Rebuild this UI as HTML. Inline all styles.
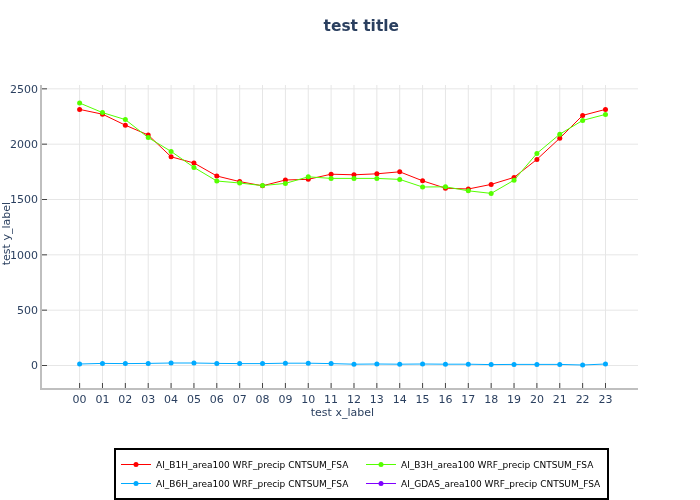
<!DOCTYPE html>
<html lang="en">
<head>
<meta charset="utf-8">
<title>test title</title>
<style>
html,body{margin:0;padding:0;background:#fff;}
body{width:700px;height:500px;overflow:hidden;}
svg{display:block;will-change:transform;}
text{font-family:"DejaVu Sans", "Liberation Sans", sans-serif;}
</style>
</head>
<body>
<svg width="700" height="500" viewBox="0 0 700 500">
<rect x="0" y="0" width="700" height="500" fill="#ffffff"/>
<g stroke="#e6e6e6" stroke-width="1">
<line x1="79.62" y1="85" x2="79.62" y2="388"/>
<line x1="102.48" y1="85" x2="102.48" y2="388"/>
<line x1="125.35" y1="85" x2="125.35" y2="388"/>
<line x1="148.21" y1="85" x2="148.21" y2="388"/>
<line x1="171.08" y1="85" x2="171.08" y2="388"/>
<line x1="193.94" y1="85" x2="193.94" y2="388"/>
<line x1="216.8" y1="85" x2="216.8" y2="388"/>
<line x1="239.67" y1="85" x2="239.67" y2="388"/>
<line x1="262.53" y1="85" x2="262.53" y2="388"/>
<line x1="285.4" y1="85" x2="285.4" y2="388"/>
<line x1="308.26" y1="85" x2="308.26" y2="388"/>
<line x1="331.12" y1="85" x2="331.12" y2="388"/>
<line x1="353.99" y1="85" x2="353.99" y2="388"/>
<line x1="376.85" y1="85" x2="376.85" y2="388"/>
<line x1="399.72" y1="85" x2="399.72" y2="388"/>
<line x1="422.58" y1="85" x2="422.58" y2="388"/>
<line x1="445.44" y1="85" x2="445.44" y2="388"/>
<line x1="468.31" y1="85" x2="468.31" y2="388"/>
<line x1="491.17" y1="85" x2="491.17" y2="388"/>
<line x1="514.04" y1="85" x2="514.04" y2="388"/>
<line x1="536.9" y1="85" x2="536.9" y2="388"/>
<line x1="559.76" y1="85" x2="559.76" y2="388"/>
<line x1="582.63" y1="85" x2="582.63" y2="388"/>
<line x1="605.49" y1="85" x2="605.49" y2="388"/>
<line x1="42" y1="365.5" x2="638" y2="365.5"/>
<line x1="42" y1="310.17" x2="638" y2="310.17"/>
<line x1="42" y1="254.83" x2="638" y2="254.83"/>
<line x1="42" y1="199.5" x2="638" y2="199.5"/>
<line x1="42" y1="144.17" x2="638" y2="144.17"/>
<line x1="42" y1="88.83" x2="638" y2="88.83"/>
</g>
<g stroke="#444444" stroke-width="1">
<line x1="79.62" y1="388" x2="79.62" y2="383"/>
<line x1="102.48" y1="388" x2="102.48" y2="383"/>
<line x1="125.35" y1="388" x2="125.35" y2="383"/>
<line x1="148.21" y1="388" x2="148.21" y2="383"/>
<line x1="171.08" y1="388" x2="171.08" y2="383"/>
<line x1="193.94" y1="388" x2="193.94" y2="383"/>
<line x1="216.8" y1="388" x2="216.8" y2="383"/>
<line x1="239.67" y1="388" x2="239.67" y2="383"/>
<line x1="262.53" y1="388" x2="262.53" y2="383"/>
<line x1="285.4" y1="388" x2="285.4" y2="383"/>
<line x1="308.26" y1="388" x2="308.26" y2="383"/>
<line x1="331.12" y1="388" x2="331.12" y2="383"/>
<line x1="353.99" y1="388" x2="353.99" y2="383"/>
<line x1="376.85" y1="388" x2="376.85" y2="383"/>
<line x1="399.72" y1="388" x2="399.72" y2="383"/>
<line x1="422.58" y1="388" x2="422.58" y2="383"/>
<line x1="445.44" y1="388" x2="445.44" y2="383"/>
<line x1="468.31" y1="388" x2="468.31" y2="383"/>
<line x1="491.17" y1="388" x2="491.17" y2="383"/>
<line x1="514.04" y1="388" x2="514.04" y2="383"/>
<line x1="536.9" y1="388" x2="536.9" y2="383"/>
<line x1="559.76" y1="388" x2="559.76" y2="383"/>
<line x1="582.63" y1="388" x2="582.63" y2="383"/>
<line x1="605.49" y1="388" x2="605.49" y2="383"/>
<line x1="42" y1="365.5" x2="47" y2="365.5"/>
<line x1="42" y1="310.17" x2="47" y2="310.17"/>
<line x1="42" y1="254.83" x2="47" y2="254.83"/>
<line x1="42" y1="199.5" x2="47" y2="199.5"/>
<line x1="42" y1="144.17" x2="47" y2="144.17"/>
<line x1="42" y1="88.83" x2="47" y2="88.83"/>
</g>
<g shape-rendering="crispEdges" stroke="#bfbfbf" stroke-width="2">
<line x1="40" y1="389" x2="638" y2="389"/>
<line x1="41" y1="85" x2="41" y2="390"/>
</g>
<g>
<polyline points="79.62,109.40 102.48,114.20 125.35,125.20 148.21,135.00 171.08,156.80 193.94,163.00 216.80,176.00 239.67,181.60 262.53,185.80 285.40,180.00 308.26,179.30 331.12,174.20 353.99,174.80 376.85,173.80 399.72,171.80 422.58,180.80 445.44,188.20 468.31,189.00 491.17,184.40 514.04,177.40 536.90,159.40 559.76,138.20 582.63,115.40 605.49,109.40" fill="none" stroke="#ff0000" stroke-width="1" stroke-linejoin="round"/>
<circle cx="79.62" cy="109.40" r="2.5" fill="#ff0000"/>
<circle cx="102.48" cy="114.20" r="2.5" fill="#ff0000"/>
<circle cx="125.35" cy="125.20" r="2.5" fill="#ff0000"/>
<circle cx="148.21" cy="135.00" r="2.5" fill="#ff0000"/>
<circle cx="171.08" cy="156.80" r="2.5" fill="#ff0000"/>
<circle cx="193.94" cy="163.00" r="2.5" fill="#ff0000"/>
<circle cx="216.80" cy="176.00" r="2.5" fill="#ff0000"/>
<circle cx="239.67" cy="181.60" r="2.5" fill="#ff0000"/>
<circle cx="262.53" cy="185.80" r="2.5" fill="#ff0000"/>
<circle cx="285.40" cy="180.00" r="2.5" fill="#ff0000"/>
<circle cx="308.26" cy="179.30" r="2.5" fill="#ff0000"/>
<circle cx="331.12" cy="174.20" r="2.5" fill="#ff0000"/>
<circle cx="353.99" cy="174.80" r="2.5" fill="#ff0000"/>
<circle cx="376.85" cy="173.80" r="2.5" fill="#ff0000"/>
<circle cx="399.72" cy="171.80" r="2.5" fill="#ff0000"/>
<circle cx="422.58" cy="180.80" r="2.5" fill="#ff0000"/>
<circle cx="445.44" cy="188.20" r="2.5" fill="#ff0000"/>
<circle cx="468.31" cy="189.00" r="2.5" fill="#ff0000"/>
<circle cx="491.17" cy="184.40" r="2.5" fill="#ff0000"/>
<circle cx="514.04" cy="177.40" r="2.5" fill="#ff0000"/>
<circle cx="536.90" cy="159.40" r="2.5" fill="#ff0000"/>
<circle cx="559.76" cy="138.20" r="2.5" fill="#ff0000"/>
<circle cx="582.63" cy="115.40" r="2.5" fill="#ff0000"/>
<circle cx="605.49" cy="109.40" r="2.5" fill="#ff0000"/>
</g>
<g>
<polyline points="79.62,103.00 102.48,112.60 125.35,119.60 148.21,137.60 171.08,151.40 193.94,167.40 216.80,181.00 239.67,183.00 262.53,185.60 285.40,183.40 308.26,176.80 331.12,178.40 353.99,178.40 376.85,178.40 399.72,179.40 422.58,187.00 445.44,186.80 468.31,190.80 491.17,193.40 514.04,180.20 536.90,153.40 559.76,134.20 582.63,120.40 605.49,114.40" fill="none" stroke="#55ff00" stroke-width="1" stroke-linejoin="round"/>
<circle cx="79.62" cy="103.00" r="2.5" fill="#55ff00"/>
<circle cx="102.48" cy="112.60" r="2.5" fill="#55ff00"/>
<circle cx="125.35" cy="119.60" r="2.5" fill="#55ff00"/>
<circle cx="148.21" cy="137.60" r="2.5" fill="#55ff00"/>
<circle cx="171.08" cy="151.40" r="2.5" fill="#55ff00"/>
<circle cx="193.94" cy="167.40" r="2.5" fill="#55ff00"/>
<circle cx="216.80" cy="181.00" r="2.5" fill="#55ff00"/>
<circle cx="239.67" cy="183.00" r="2.5" fill="#55ff00"/>
<circle cx="262.53" cy="185.60" r="2.5" fill="#55ff00"/>
<circle cx="285.40" cy="183.40" r="2.5" fill="#55ff00"/>
<circle cx="308.26" cy="176.80" r="2.5" fill="#55ff00"/>
<circle cx="331.12" cy="178.40" r="2.5" fill="#55ff00"/>
<circle cx="353.99" cy="178.40" r="2.5" fill="#55ff00"/>
<circle cx="376.85" cy="178.40" r="2.5" fill="#55ff00"/>
<circle cx="399.72" cy="179.40" r="2.5" fill="#55ff00"/>
<circle cx="422.58" cy="187.00" r="2.5" fill="#55ff00"/>
<circle cx="445.44" cy="186.80" r="2.5" fill="#55ff00"/>
<circle cx="468.31" cy="190.80" r="2.5" fill="#55ff00"/>
<circle cx="491.17" cy="193.40" r="2.5" fill="#55ff00"/>
<circle cx="514.04" cy="180.20" r="2.5" fill="#55ff00"/>
<circle cx="536.90" cy="153.40" r="2.5" fill="#55ff00"/>
<circle cx="559.76" cy="134.20" r="2.5" fill="#55ff00"/>
<circle cx="582.63" cy="120.40" r="2.5" fill="#55ff00"/>
<circle cx="605.49" cy="114.40" r="2.5" fill="#55ff00"/>
</g>
<g>
<polyline points="79.62,364.00 102.48,363.40 125.35,363.60 148.21,363.40 171.08,363.00 193.94,363.00 216.80,363.40 239.67,363.60 262.53,363.60 285.40,363.20 308.26,363.20 331.12,363.60 353.99,364.20 376.85,364.00 399.72,364.20 422.58,364.00 445.44,364.20 468.31,364.20 491.17,364.60 514.04,364.40 536.90,364.40 559.76,364.40 582.63,365.00 605.49,364.00" fill="none" stroke="#00aaff" stroke-width="1" stroke-linejoin="round"/>
<circle cx="79.62" cy="364.00" r="2.5" fill="#00aaff"/>
<circle cx="102.48" cy="363.40" r="2.5" fill="#00aaff"/>
<circle cx="125.35" cy="363.60" r="2.5" fill="#00aaff"/>
<circle cx="148.21" cy="363.40" r="2.5" fill="#00aaff"/>
<circle cx="171.08" cy="363.00" r="2.5" fill="#00aaff"/>
<circle cx="193.94" cy="363.00" r="2.5" fill="#00aaff"/>
<circle cx="216.80" cy="363.40" r="2.5" fill="#00aaff"/>
<circle cx="239.67" cy="363.60" r="2.5" fill="#00aaff"/>
<circle cx="262.53" cy="363.60" r="2.5" fill="#00aaff"/>
<circle cx="285.40" cy="363.20" r="2.5" fill="#00aaff"/>
<circle cx="308.26" cy="363.20" r="2.5" fill="#00aaff"/>
<circle cx="331.12" cy="363.60" r="2.5" fill="#00aaff"/>
<circle cx="353.99" cy="364.20" r="2.5" fill="#00aaff"/>
<circle cx="376.85" cy="364.00" r="2.5" fill="#00aaff"/>
<circle cx="399.72" cy="364.20" r="2.5" fill="#00aaff"/>
<circle cx="422.58" cy="364.00" r="2.5" fill="#00aaff"/>
<circle cx="445.44" cy="364.20" r="2.5" fill="#00aaff"/>
<circle cx="468.31" cy="364.20" r="2.5" fill="#00aaff"/>
<circle cx="491.17" cy="364.60" r="2.5" fill="#00aaff"/>
<circle cx="514.04" cy="364.40" r="2.5" fill="#00aaff"/>
<circle cx="536.90" cy="364.40" r="2.5" fill="#00aaff"/>
<circle cx="559.76" cy="364.40" r="2.5" fill="#00aaff"/>
<circle cx="582.63" cy="365.00" r="2.5" fill="#00aaff"/>
<circle cx="605.49" cy="364.00" r="2.5" fill="#00aaff"/>
</g>
<g fill="#2a3f5f" font-size="11">
<text x="79.62" y="403" text-anchor="middle">00</text>
<text x="102.48" y="403" text-anchor="middle">01</text>
<text x="125.35" y="403" text-anchor="middle">02</text>
<text x="148.21" y="403" text-anchor="middle">03</text>
<text x="171.08" y="403" text-anchor="middle">04</text>
<text x="193.94" y="403" text-anchor="middle">05</text>
<text x="216.80" y="403" text-anchor="middle">06</text>
<text x="239.67" y="403" text-anchor="middle">07</text>
<text x="262.53" y="403" text-anchor="middle">08</text>
<text x="285.40" y="403" text-anchor="middle">09</text>
<text x="308.26" y="403" text-anchor="middle">10</text>
<text x="331.12" y="403" text-anchor="middle">11</text>
<text x="353.99" y="403" text-anchor="middle">12</text>
<text x="376.85" y="403" text-anchor="middle">13</text>
<text x="399.72" y="403" text-anchor="middle">14</text>
<text x="422.58" y="403" text-anchor="middle">15</text>
<text x="445.44" y="403" text-anchor="middle">16</text>
<text x="468.31" y="403" text-anchor="middle">17</text>
<text x="491.17" y="403" text-anchor="middle">18</text>
<text x="514.04" y="403" text-anchor="middle">19</text>
<text x="536.90" y="403" text-anchor="middle">20</text>
<text x="559.76" y="403" text-anchor="middle">21</text>
<text x="582.63" y="403" text-anchor="middle">22</text>
<text x="605.49" y="403" text-anchor="middle">23</text>
<text x="38" y="369.35" text-anchor="end">0</text>
<text x="38" y="314.02" text-anchor="end">500</text>
<text x="38" y="258.68" text-anchor="end">1000</text>
<text x="38" y="203.35" text-anchor="end">1500</text>
<text x="38" y="148.02" text-anchor="end">2000</text>
<text x="38" y="92.68" text-anchor="end">2500</text>
</g>
<text x="342.4" y="415.7" text-anchor="middle" font-size="11" fill="#2a3f5f">test x_label</text>
<text transform="translate(10,233.6) rotate(-90)" text-anchor="middle" font-size="11" fill="#2a3f5f">test y_label</text>
<text x="361.3" y="30.8" text-anchor="middle" font-size="15.4" font-weight="bold" fill="#2a3f5f">test title</text>
<g>
<rect x="115" y="449" width="493" height="50" fill="#ffffff" stroke="#000000" stroke-width="2" shape-rendering="crispEdges"/>
<line x1="121" y1="464.5" x2="151" y2="464.5" stroke="#ff0000" stroke-width="1"/>
<circle cx="136" cy="464.5" r="2.5" fill="#ff0000"/>
<text x="156" y="467.9" font-size="9" fill="#000000">AI_B1H_area100 WRF_precip CNTSUM_FSA</text>
<line x1="366" y1="464.5" x2="396" y2="464.5" stroke="#55ff00" stroke-width="1"/>
<circle cx="381" cy="464.5" r="2.5" fill="#55ff00"/>
<text x="401" y="467.9" font-size="9" fill="#000000">AI_B3H_area100 WRF_precip CNTSUM_FSA</text>
<line x1="121" y1="483.5" x2="151" y2="483.5" stroke="#00aaff" stroke-width="1"/>
<circle cx="136" cy="483.5" r="2.5" fill="#00aaff"/>
<text x="156" y="486.9" font-size="9" fill="#000000">AI_B6H_area100 WRF_precip CNTSUM_FSA</text>
<line x1="366" y1="483.5" x2="396" y2="483.5" stroke="#7f00ff" stroke-width="1"/>
<circle cx="381" cy="483.5" r="2.5" fill="#7f00ff"/>
<text x="401" y="486.9" font-size="9" fill="#000000">AI_GDAS_area100 WRF_precip CNTSUM_FSA</text>
</g>
</svg>
</body>
</html>
